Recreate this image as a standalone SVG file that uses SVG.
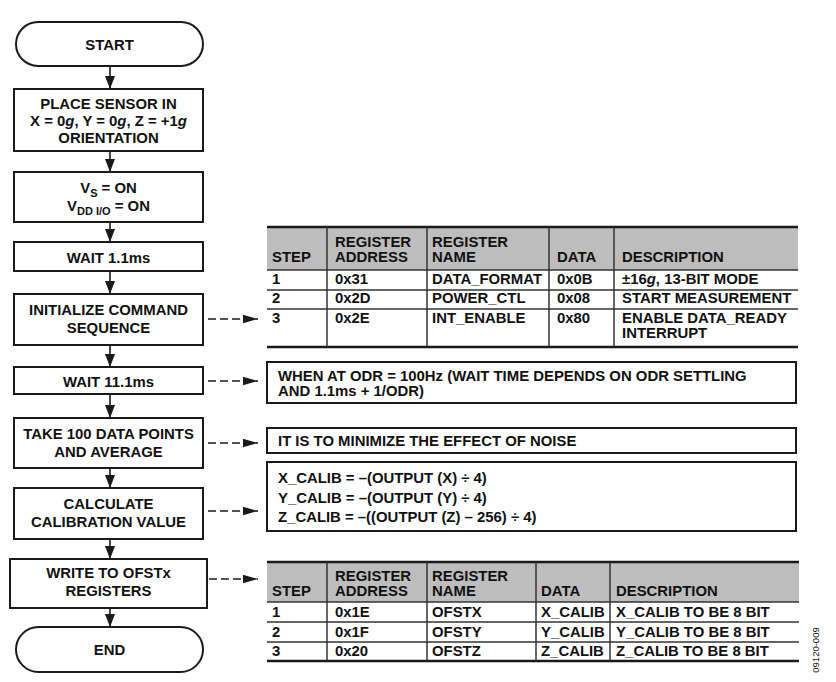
<svg xmlns="http://www.w3.org/2000/svg" width="836" height="682" viewBox="0 0 836 682">
<style>
  text { font-family: "Liberation Sans", Arial, sans-serif; font-weight: bold; font-size: 14.9px; fill: #111; }
  .c { text-anchor: middle; }
  .box { fill: #fff; stroke: #1a1a1a; stroke-width: 2; }
  .flow { stroke: #1a1a1a; stroke-width: 1.6; fill: none; }
  .dash { stroke: #1a1a1a; stroke-width: 1.6; fill: none; stroke-dasharray: 8 4; }
  .hdr { fill: #bdbdbd; }
  .thick { stroke: #1a1a1a; stroke-width: 2.5; }
  .thin { stroke: #333; stroke-width: 1.5; }
  .id { font-weight: normal; font-size: 9.5px; }
</style>
<defs>
  <marker id="ah" markerUnits="userSpaceOnUse" markerWidth="13" markerHeight="11" refX="13" refY="5" orient="auto">
    <path d="M0,0 L13,5 L0,10 z" fill="#1a1a1a"/>
  </marker>
  <marker id="ahd" markerUnits="userSpaceOnUse" markerWidth="15" markerHeight="9" refX="15" refY="4.25" orient="auto">
    <path d="M0,0 L15,4.25 L0,8.5 z" fill="#1a1a1a"/>
  </marker>
</defs>
<rect width="836" height="682" fill="#fff"/>

<g id="connectors">
  <line class="flow" x1="110" y1="66" x2="110" y2="89" marker-end="url(#ah)"/>
  <line class="flow" x1="110" y1="151" x2="110" y2="172" marker-end="url(#ah)"/>
  <line class="flow" x1="110" y1="222" x2="110" y2="242" marker-end="url(#ah)"/>
  <line class="flow" x1="110" y1="271" x2="110" y2="294" marker-end="url(#ah)"/>
  <line class="flow" x1="110" y1="345" x2="110" y2="367" marker-end="url(#ah)"/>
  <line class="flow" x1="110" y1="394" x2="110" y2="418" marker-end="url(#ah)"/>
  <line class="flow" x1="110" y1="468" x2="110" y2="488" marker-end="url(#ah)"/>
  <line class="flow" x1="110" y1="539" x2="110" y2="559" marker-end="url(#ah)"/>
  <line class="flow" x1="110" y1="608" x2="110" y2="627" marker-end="url(#ah)"/>
  <line class="dash" x1="208" y1="319" x2="258" y2="319" marker-end="url(#ahd)"/>
  <line class="dash" x1="208" y1="381" x2="258" y2="381" marker-end="url(#ahd)"/>
  <line class="dash" x1="208" y1="443" x2="258" y2="443" marker-end="url(#ahd)"/>
  <line class="dash" x1="208" y1="511" x2="258" y2="511" marker-end="url(#ahd)"/>
  <line class="dash" x1="209" y1="579" x2="258" y2="579" marker-end="url(#ahd)"/>
</g>

<g id="start">
  <rect class="box" x="16" y="22" width="187" height="44" rx="22" ry="22"/>
  <text class="c" x="109.5" y="50">START</text>
</g>
<g id="place-sensor">
  <rect class="box" x="14" y="89" width="189" height="62"/>
  <text class="c" x="108.5" y="109">PLACE SENSOR IN</text>
  <text class="c" x="108.5" y="126">X = 0<tspan font-style="italic">g</tspan>, Y = 0<tspan font-style="italic">g</tspan>, Z = +1<tspan font-style="italic">g</tspan></text>
  <text class="c" x="108.5" y="143">ORIENTATION</text>
</g>
<g id="power-on">
  <rect class="box" x="14" y="172" width="189" height="50"/>
  <text class="c" x="108.5" y="193">V<tspan font-size="11" dy="4">S</tspan><tspan dy="-4"> = ON</tspan></text>
  <text class="c" x="108.5" y="211">V<tspan font-size="11" dy="4">DD I/O</tspan><tspan dy="-4"> = ON</tspan></text>
</g>
<g id="wait-1">
  <rect class="box" x="14" y="242" width="189" height="29"/>
  <text class="c" x="108.5" y="263">WAIT 1.1ms</text>
</g>
<g id="init">
  <rect class="box" x="14" y="294" width="189" height="51"/>
  <text class="c" x="108.5" y="315">INITIALIZE COMMAND</text>
  <text class="c" x="108.5" y="333">SEQUENCE</text>
</g>
<g id="wait-2">
  <rect class="box" x="14" y="367" width="189" height="27"/>
  <text class="c" x="108.5" y="387">WAIT 11.1ms</text>
</g>
<g id="take">
  <rect class="box" x="14" y="418" width="189" height="50"/>
  <text class="c" x="108.5" y="439">TAKE 100 DATA POINTS</text>
  <text class="c" x="108.5" y="457">AND AVERAGE</text>
</g>
<g id="calculate">
  <rect class="box" x="14" y="488" width="189" height="51"/>
  <text class="c" x="108.5" y="509">CALCULATE</text>
  <text class="c" x="108.5" y="527">CALIBRATION VALUE</text>
</g>
<g id="write">
  <rect class="box" x="10" y="559" width="197" height="49"/>
  <text class="c" x="108.5" y="578">WRITE TO OFSTx</text>
  <text class="c" x="108.5" y="596">REGISTERS</text>
</g>
<g id="end">
  <rect class="box" x="16" y="627" width="187" height="45" rx="22.5" ry="22.5"/>
  <text class="c" x="109.5" y="655">END</text>
</g>

<g id="table-init">
  <rect class="hdr" x="267" y="227" width="531" height="43"/>
  <line class="thick" x1="267" y1="227" x2="798" y2="227"/>
  <line class="thin" x1="267" y1="270" x2="798" y2="270"/>
  <line class="thin" x1="267" y1="290" x2="798" y2="290"/>
  <line class="thin" x1="267" y1="309" x2="798" y2="309"/>
  <line class="thick" x1="267" y1="347" x2="798" y2="347"/>
  <line class="thin" x1="327" y1="227" x2="327" y2="347"/>
  <line class="thin" x1="427" y1="227" x2="427" y2="347"/>
  <line class="thin" x1="549" y1="227" x2="549" y2="347"/>
  <line class="thin" x1="614" y1="227" x2="614" y2="347"/>
  <text x="272" y="262">STEP</text>
  <text x="335" y="247">REGISTER</text>
  <text x="335" y="262">ADDRESS</text>
  <text x="432" y="247">REGISTER</text>
  <text x="432" y="262">NAME</text>
  <text x="557" y="262">DATA</text>
  <text x="622" y="262">DESCRIPTION</text>
  <text x="272" y="284">1</text>
  <text x="335" y="284">0x31</text>
  <text x="432" y="284">DATA_FORMAT</text>
  <text x="557" y="284">0x0B</text>
  <text x="622" y="284">±16<tspan font-style="italic">g</tspan>, 13-BIT MODE</text>
  <text x="272" y="303">2</text>
  <text x="335" y="303">0x2D</text>
  <text x="432" y="303">POWER_CTL</text>
  <text x="557" y="303">0x08</text>
  <text x="622" y="303">START MEASUREMENT</text>
  <text x="272" y="323">3</text>
  <text x="335" y="323">0x2E</text>
  <text x="432" y="323">INT_ENABLE</text>
  <text x="557" y="323">0x80</text>
  <text x="622" y="323">ENABLE DATA_READY</text>
  <text x="622" y="338">INTERRUPT</text>
</g>

<g id="note-wait">
  <rect class="box" x="267" y="362" width="529" height="41"/>
  <text x="278" y="381">WHEN AT ODR = 100Hz (WAIT TIME DEPENDS ON ODR SETTLING</text>
  <text x="278" y="396">AND 1.1ms + 1/ODR)</text>
</g>
<g id="note-noise">
  <rect class="box" x="267" y="428" width="529" height="25"/>
  <text x="278" y="446">IT IS TO MINIMIZE THE EFFECT OF NOISE</text>
</g>
<g id="note-calib">
  <rect class="box" x="267" y="462" width="529" height="69"/>
  <text x="278" y="483">X_CALIB = –(OUTPUT (X) ÷ 4)</text>
  <text x="278" y="503">Y_CALIB = –(OUTPUT (Y) ÷ 4)</text>
  <text x="278" y="522">Z_CALIB = –((OUTPUT (Z) – 256) ÷ 4)</text>
</g>

<g id="table-ofs">
  <rect class="hdr" x="267" y="562" width="532" height="40"/>
  <line class="thick" x1="267" y1="562" x2="799" y2="562"/>
  <line class="thin" x1="267" y1="602" x2="799" y2="602"/>
  <line class="thin" x1="267" y1="622" x2="799" y2="622"/>
  <line class="thin" x1="267" y1="642" x2="799" y2="642"/>
  <line class="thick" x1="267" y1="661" x2="799" y2="661"/>
  <line class="thin" x1="327" y1="562" x2="327" y2="661"/>
  <line class="thin" x1="427" y1="562" x2="427" y2="661"/>
  <line class="thin" x1="536" y1="562" x2="536" y2="661"/>
  <line class="thin" x1="610" y1="562" x2="610" y2="661"/>
  <text x="272" y="596">STEP</text>
  <text x="335" y="581">REGISTER</text>
  <text x="335" y="596">ADDRESS</text>
  <text x="432" y="581">REGISTER</text>
  <text x="432" y="596">NAME</text>
  <text x="541" y="596">DATA</text>
  <text x="616" y="596">DESCRIPTION</text>
  <text x="272" y="617">1</text>
  <text x="335" y="617">0x1E</text>
  <text x="432" y="617">OFSTX</text>
  <text x="541" y="617">X_CALIB</text>
  <text x="616" y="617">X_CALIB TO BE 8 BIT</text>
  <text x="272" y="637">2</text>
  <text x="335" y="637">0x1F</text>
  <text x="432" y="637">OFSTY</text>
  <text x="541" y="637">Y_CALIB</text>
  <text x="616" y="637">Y_CALIB TO BE 8 BIT</text>
  <text x="272" y="656">3</text>
  <text x="335" y="656">0x20</text>
  <text x="432" y="656">OFSTZ</text>
  <text x="541" y="656">Z_CALIB</text>
  <text x="616" y="656">Z_CALIB TO BE 8 BIT</text>
</g>

<text class="id c" transform="translate(819,650) rotate(-90)">09120-009</text>
</svg>
